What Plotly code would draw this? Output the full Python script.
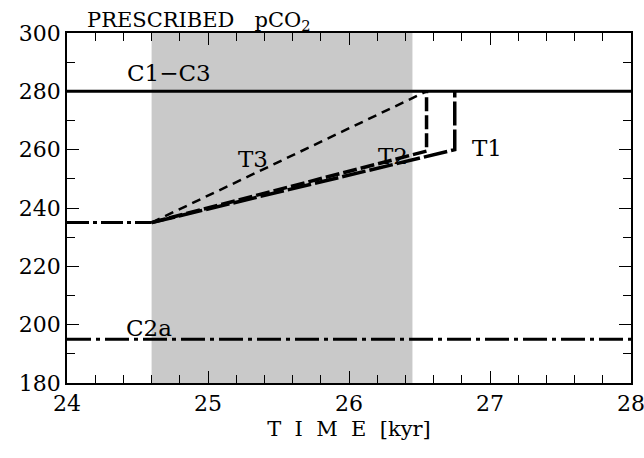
import plotly.graph_objects as go

# ---- data ----
time_range = [24.0, 28.0]
c1_c3 = [280, 280]
c2a = [195, 195]
pre_time = [24.0, 24.6]
pre_co2 = [235, 235]
t1_time = [24.6, 26.75, 26.75]
t1_co2 = [235, 260, 280]
t2_time = [24.6, 26.55, 26.55]
t2_co2 = [235, 259.5, 280]
t3_time = [24.6, 26.55]
t3_co2 = [235, 280]
shade_span = [24.6, 26.45]
labels = ["C1\u2212C3", "C2a", "T1", "T2", "T3"]
label_x = [24.72, 24.58, 26.98, 26.31, 25.32]
label_y = [286.2, 198.8, 260.5, 257.8, 256.8]

FONT = "DejaVu Serif"
fig = go.Figure()

fig.add_shape(type="rect", xref="x", yref="y", x0=shade_span[0], x1=shade_span[1],
              y0=180, y1=300, fillcolor="#c9c9c9", line=dict(width=0), layer="below")

line_black = "black"
fig.add_trace(go.Scatter(x=time_range, y=c1_c3, mode="lines",
                         line=dict(color=line_black, width=3)))
fig.add_trace(go.Scatter(x=time_range, y=c2a, mode="lines",
                         line=dict(color=line_black, width=3, dash="24px,5px,4px,5px")))
fig.add_trace(go.Scatter(x=pre_time, y=pre_co2, mode="lines",
                         line=dict(color=line_black, width=3, dash="22px,4px,4px,4px")))
fig.add_trace(go.Scatter(x=t1_time, y=t1_co2, mode="lines",
                         line=dict(color=line_black, width=3.5, dash="24px,4px")))
fig.add_trace(go.Scatter(x=t2_time, y=t2_co2, mode="lines",
                         line=dict(color=line_black, width=3.5, dash="14px,4px")))
fig.add_trace(go.Scatter(x=t3_time, y=t3_co2, mode="lines",
                         line=dict(color=line_black, width=2.5, dash="9px,6px")))

for txt, lx, ly in zip(labels, label_x, label_y):
    fig.add_annotation(x=lx, y=ly, text=txt, showarrow=False,
                       font=dict(family=FONT, size=23, color="black"))

fig.add_annotation(xref="paper", yref="paper", x=0.032, y=1.0, xanchor="left", yanchor="bottom",
                   yshift=-3,
                   text="PRESCRIBED&nbsp;&nbsp;&nbsp;pCO<sub>2</sub>", showarrow=False,
                   font=dict(family=FONT, size=21, color="black"))

axis_common = dict(showgrid=False, zeroline=False, showline=True, linecolor="black",
                   linewidth=1.5, mirror="ticks", ticks="inside", tickcolor="black",
                   automargin=False, ticklabeloverflow="allow",
                   tickfont=dict(family=FONT, size=22, color="black"))
fig.update_xaxes(range=[24, 28], dtick=1, ticklen=12,
                 minor=dict(dtick=0.2, ticks="inside", ticklen=8, tickcolor="black"),
                 title=dict(text="T&nbsp;&nbsp;I&nbsp;&nbsp;M&nbsp;&nbsp;E&nbsp;&nbsp;[kyr]",
                            font=dict(family=FONT, size=21, color="black"),
                            standoff=6),
                 **axis_common)
fig.update_yaxes(range=[180, 300], dtick=20, ticklen=12,
                 minor=dict(dtick=10, ticks="inside", ticklen=8, tickcolor="black"),
                 **axis_common)

fig.update_layout(width=644, height=458, showlegend=False,
                  plot_bgcolor="white", paper_bgcolor="white",
                  margin=dict(l=67, r=13, t=33, b=75))
fig.write_html("out.html", config={"displayModeBar": False},
               post_script="document.body.style.margin='0';document.body.style.overflow='hidden';")
